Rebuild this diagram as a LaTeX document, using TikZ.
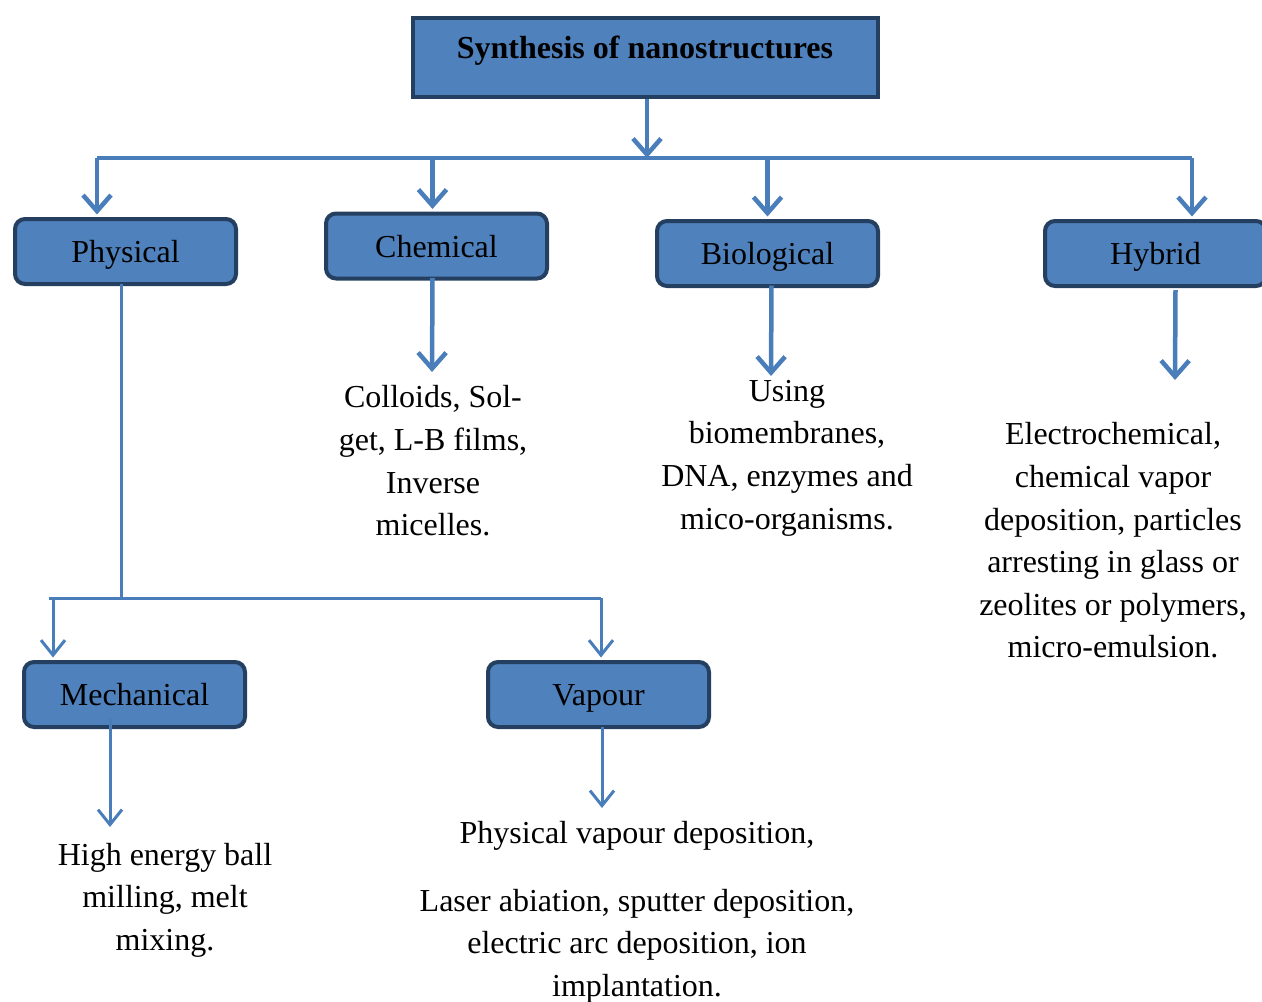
\documentclass[tikz,border=0pt]{standalone}
\usepackage{fontspec}
\setmainfont{Liberation Serif}
\usetikzlibrary{arrows.meta}
\definecolor{boxblue}{HTML}{4F81BD}
\definecolor{boxedge}{HTML}{243F60}
\definecolor{linkblue}{HTML}{4A7EBB}
\tikzset{
  catbox/.style={draw=boxedge,fill=boxblue,line width=4pt,rounded corners=10pt,
    minimum width=221pt,minimum height=65pt,inner sep=0pt,text height=29pt,text depth=7pt},
  link/.style={linkblue,line width=4.5pt},
  sublink/.style={linkblue,line width=3pt},
  arr/.style={link,-{Straight Barb[length=16pt,width=28pt]}},
  subarr/.style={sublink,-{Straight Barb[length=15pt,width=24pt]}},
  desc/.style={align=center,inner sep=0pt},
}
\begin{document}
\begin{tikzpicture}[x=1pt,y=-1pt,font=\fontsize{32}{42.6}\selectfont]
  \useasboundingbox (0,0) rectangle (1262,1002);
  % top box
  \node[draw=boxedge,fill=boxblue,line width=4pt,minimum width=465pt,inner sep=0pt,
    text height=40pt,text depth=39pt,font=\fontsize{32}{38}\selectfont\bfseries]
    (synth) at (645,57.5) {Synthesis of nanostructures};
  % categories
  \node[catbox] (phys) at (125.5,251.5) {Physical};
  \node[catbox] (chem) at (436.5,246) {Chemical};
  \node[catbox] (bio) at (767.5,253.5) {Biological};
  \node[catbox] (hyb) at (1155.5,253.5) {Hybrid};
  \node[catbox] (mech) at (134.5,694.5) {Mechanical};
  \node[catbox] (vap) at (598.5,694.5) {Vapour};
  % descriptions
  \node[desc] (chemtxt) at (433,461) {Colloids, Sol-\\get, L-B films,\\Inverse\\micelles.};
  \node[desc] (biotxt) at (787,458) {Using\\biomembranes,\\DNA, enzymes and\\mico-organisms.};
  \node[desc] (hybtxt) at (1113,540.5) {Electrochemical,\\chemical vapor\\deposition, particles\\arresting in glass or\\zeolites or polymers,\\micro-emulsion.};
  \node[desc] (mechtxt) at (165,900) {High energy ball\\milling, melt\\mixing.};
  \node[desc] (vaptxt) at (637,836) {Physical vapour deposition,};
  \node[desc] (vaptxtb) at (637,946) {Laser abiation, sputter deposition,\\electric arc deposition, ion\\implantation.};
  % bus lines
  \coordinate (busL) at (97,158);
  \coordinate (busR) at (1192,158);
  \coordinate (subL) at (49,598);
  \coordinate (subR) at (601,598);
  \coordinate (chemend) at (432,372);
  \coordinate (bioend) at (771,376);
  \coordinate (hybend) at (1175,380);
  \coordinate (mechend) at (110,827);
  \coordinate (vapend) at (602,808);
  \draw[arr] ([xshift=2pt]synth.south) -- ([xshift=2pt]synth.south |- busL);
  \draw[link] (busL) -- (busR);
  \draw[arr] (busL) -- ([yshift=2.5pt]busL |- phys.north);
  \draw[arr] ([xshift=-4pt]chem.north |- busL) -- ([xshift=-4pt,yshift=2.5pt]chem.north);
  \draw[arr] (bio.north |- busL) -- ([yshift=2.5pt]bio.north);
  \draw[arr] (busR) -- ([yshift=2.5pt]busR |- hyb.north);
  % down to descriptions
  \draw[arr] ([xshift=-4pt,yshift=2.5pt]chem.south) -- (chemend);
  \draw[arr] ([xshift=4pt,yshift=2.5pt]bio.south) -- (bioend);
  \draw[arr] ([xshift=20pt,yshift=-2pt]hyb.south) -- (hybend);
  % physical branch
  \draw[sublink] ([xshift=-4pt,yshift=2.5pt]phys.south) -- ([xshift=-4pt]phys.south |- subL);
  \draw[sublink] (subL) -- (subR);
  \draw[subarr] ([xshift=4pt]subL) -- ([xshift=4pt,yshift=2.5pt]subL |- mech.north);
  \draw[subarr] (subR) -- ([yshift=2.5pt]subR |- vap.north);
  \draw[subarr] ([xshift=-24.5pt,yshift=-23pt]mech.center) -- (mechend);
  \draw[subarr] ([xshift=3.5pt,yshift=2.5pt]vap.south) -- (vapend);
\end{tikzpicture}
\end{document}
